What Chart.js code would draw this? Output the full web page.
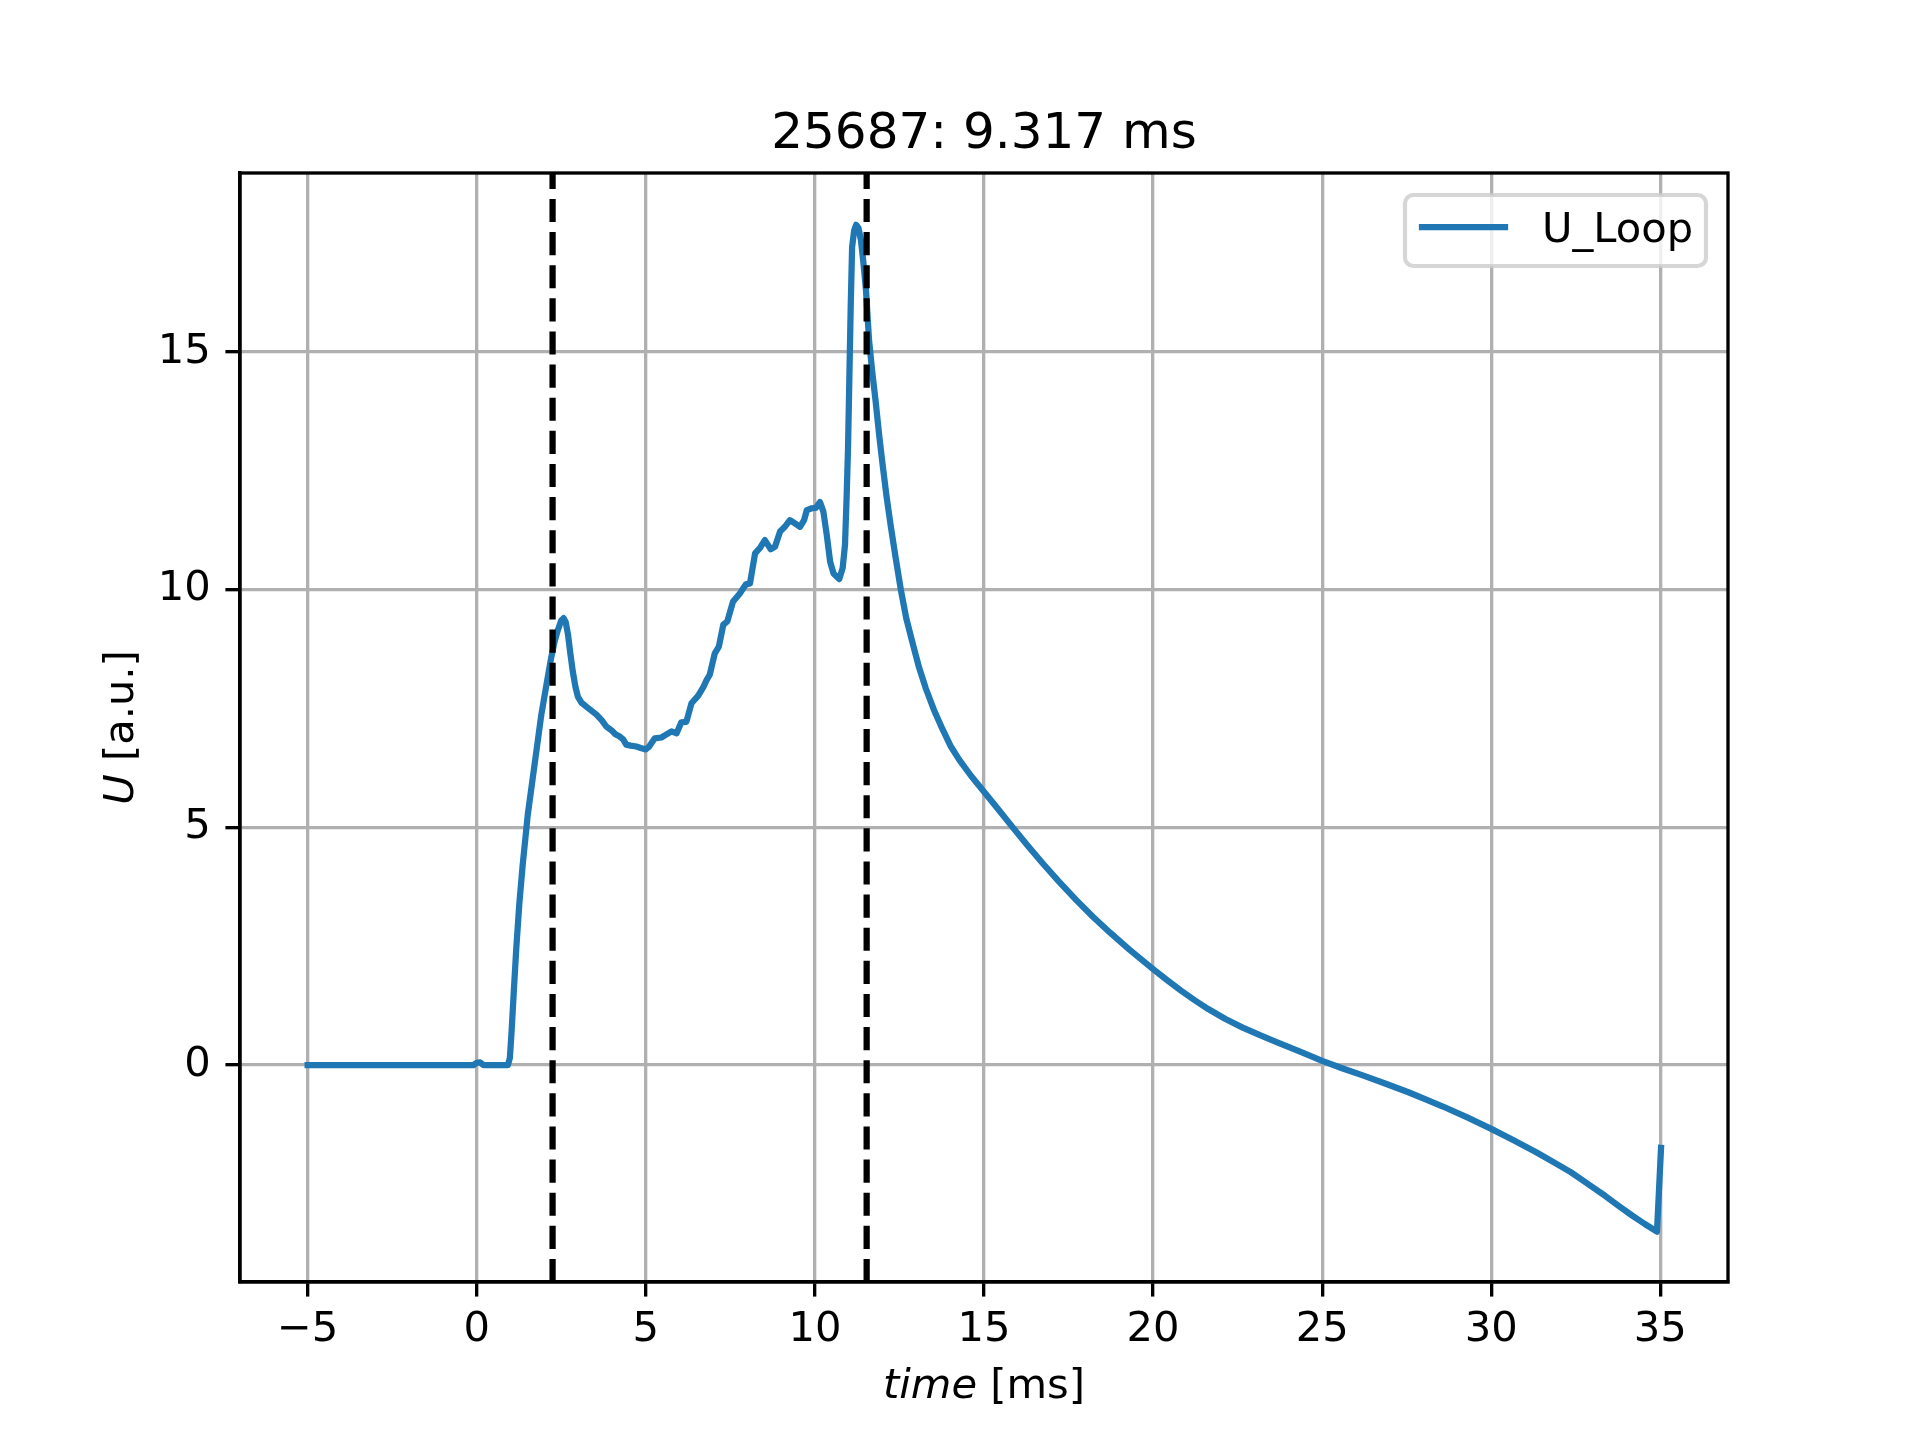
<!DOCTYPE html>
<html>
<head>
<meta charset="utf-8">
<script src="https://cdn.jsdelivr.net/npm/chart.js@4.4.1/dist/chart.umd.min.js"></script>
<style>
  html, body { margin: 0; padding: 0; background: #fff; }
  #wrap { width: 1920px; height: 1440px; }
</style>
</head>
<body>
<div id="wrap"><canvas id="uLoopCanvas" width="1920" height="1440"></canvas></div>
<script>
// values
var timeMs = [
  -5, -0.1, 0.0, 0.1, 0.2, 0.92, 0.98, 1.03, 1.1, 1.17,
  1.26, 1.36, 1.51, 1.71, 1.91, 2.05, 2.2, 2.3, 2.4, 2.5,
  2.57, 2.63, 2.7, 2.77, 2.84, 2.92, 2.99, 3.1, 3.24, 3.4,
  3.54, 3.7, 3.83, 4.0, 4.1, 4.23, 4.33, 4.42, 4.55, 4.72,
  4.85, 5.0, 5.1, 5.26, 5.46, 5.6, 5.76, 5.91, 6.05, 6.2,
  6.35, 6.55, 6.7, 6.8, 6.89, 7.04, 7.16, 7.29, 7.41, 7.58,
  7.78, 7.96, 8.08, 8.23, 8.37, 8.52, 8.69, 8.82, 8.97, 9.11,
  9.26, 9.41, 9.56, 9.68, 9.76, 9.91, 10.03, 10.15, 10.25, 10.35,
  10.45, 10.55, 10.72, 10.82, 10.89, 10.94, 10.98, 11.02, 11.06, 11.1,
  11.16, 11.22, 11.29, 11.36, 11.43, 11.51, 11.6, 11.7, 11.8, 11.9,
  12.0, 12.12, 12.24, 12.38, 12.54, 12.7, 12.89, 13.08, 13.28, 13.52,
  13.77, 14.02, 14.27, 14.62, 15.0, 15.42, 15.85, 16.3, 16.74, 17.23,
  17.73, 18.22, 18.72, 19.3, 20.0, 20.41, 20.82, 21.22, 21.63,
  22.14, 22.65, 23.16, 23.67, 24.33, 25.0, 25.61, 26.22, 26.88, 27.55,
  28.06, 28.57, 29.29, 30.0, 30.66, 31.33, 31.84, 32.35, 32.86, 33.37,
  33.77, 34.18, 34.54, 34.9, 35.02
];
var uLoop = [
  0, 0, 0.05, 0.06, 0, 0, 0.15, 0.7, 1.6, 2.46,
  3.4, 4.22, 5.27, 6.32, 7.37, 7.95, 8.56, 8.9, 9.15, 9.35,
  9.4, 9.32, 9.05, 8.65, 8.28, 7.95, 7.75, 7.62, 7.54, 7.45,
  7.37, 7.25, 7.12, 7.03, 6.96, 6.91, 6.85, 6.74, 6.72, 6.7,
  6.67, 6.64, 6.7, 6.87, 6.89, 6.95, 7.02, 6.98, 7.21, 7.22,
  7.61, 7.77, 7.95, 8.1, 8.21, 8.66, 8.8, 9.26, 9.33, 9.75,
  9.92, 10.11, 10.13, 10.76, 10.87, 11.04, 10.85, 10.9, 11.22, 11.32,
  11.46, 11.39, 11.32, 11.46, 11.67, 11.71, 11.72, 11.84, 11.64, 11.15,
  10.59, 10.34, 10.22, 10.45, 10.94, 11.99, 13.0, 14.5, 16.0, 17.2,
  17.55, 17.67, 17.6, 17.35, 16.9, 16.3, 15.25, 14.55, 13.93, 13.25,
  12.64, 11.95, 11.35, 10.7, 10.0, 9.4, 8.87, 8.36, 7.92, 7.47,
  7.07, 6.7, 6.42, 6.08, 5.75, 5.38, 5.0, 4.61, 4.24, 3.85,
  3.47, 3.12, 2.79, 2.43, 2.02, 1.79, 1.57, 1.37, 1.18,
  0.97, 0.79, 0.63, 0.48, 0.29, 0.09, -0.07, -0.22, -0.39, -0.57,
  -0.72, -0.87, -1.1, -1.34, -1.58, -1.83, -2.04, -2.25, -2.5, -2.75,
  -2.96, -3.17, -3.34, -3.5, -1.74
];
var markerTimes = [2.243, 11.53];
var xTicks = [-5, 0, 5, 10, 15, 20, 25, 30, 35];
var yTicks = [0, 5, 10, 15];
var xRange = [-7, 37];
var yRange = [-4.56, 18.76];

var titleText = '25687: 9.317 ms';
var legendText = 'U_Loop';

// matplotlib-ish sizes at 300 dpi
var PT = 300 / 72;
var FONT = "'DejaVu Sans', 'Liberation Sans', sans-serif";
var BLUE = '#1f77b4';

var points = [];
for (let i = 0; i < timeMs.length; i++) {
  points.push({ x: timeMs[i], y: uLoop[i] });
}

var datasets = [];
for (let i = 0; i < markerTimes.length; i++) {
  datasets.push({
    label: 'marker' + i,
    data: [{ x: markerTimes[i], y: yRange[0] }, { x: markerTimes[i], y: yRange[1] }],
    borderColor: '#000',
    borderWidth: 1.5 * PT,
    borderDash: [3.7 * 1.5 * PT, 1.6 * 1.5 * PT],
    borderCapStyle: 'butt',
    pointRadius: 0,
    order: 0
  });
}
datasets.push({
  label: legendText,
  data: points,
  borderColor: BLUE,
  borderWidth: 1.5 * PT,
  borderJoinStyle: 'round',
  borderCapStyle: 'square',
  pointRadius: 0,
  tension: 0,
  order: 1
});

function minusSign(v) {
  return String(v).replace('-', '\u2212');
}

function axisOpts(range, ticks, pad) {
  return {
    type: 'linear',
    min: range[0],
    max: range[1],
    afterBuildTicks: function (axis) {
      axis.ticks = ticks.map(v => ({ value: v }));
    },
    grid: {
      color: '#b0b0b0',
      lineWidth: 0.8 * PT,
      drawTicks: true,
      tickLength: 3.5 * PT,
      tickColor: '#000',
      tickWidth: 0.8 * PT
    },
    border: { display: true, color: '#000', width: 0.8 * PT },
    ticks: {
      color: '#000',
      font: { family: FONT, size: 10 * PT },
      padding: pad,
      maxRotation: 0,
      autoSkip: false,
      callback: function (v) { return minusSign(v); }
    }
  };
}

var xScale = axisOpts(xRange, xTicks, 8.5);
xScale.afterFit = function (axis) { axis.height = 158; };
var yScale = axisOpts(yRange, yTicks, 3.5 * PT);
yScale.afterFit = function (axis) { axis.width = 240; };

// frame, title, axis labels and legend the matplotlib way
var decorations = {
  id: 'decorations',
  afterDatasetsDraw: function (chart) {
    let ctx = chart.ctx;
    let a = chart.chartArea;
    ctx.save();
    ctx.strokeStyle = '#000';
    ctx.lineWidth = 0.8 * PT;
    ctx.strokeRect(a.left, a.top, a.right - a.left, a.bottom - a.top);
    ctx.restore();
  },
  afterDraw: function (chart) {
    let ctx = chart.ctx;
    let a = chart.chartArea;
    let cx = (a.left + a.right) / 2;
    let cy = (a.top + a.bottom) / 2;
    let fs = 10 * PT;
    ctx.save();
    ctx.fillStyle = '#000';
    ctx.textBaseline = 'alphabetic';

    // title
    ctx.font = (12 * PT) + 'px ' + FONT;
    ctx.textAlign = 'center';
    ctx.fillText(titleText, cx, a.top - 6 * PT);

    // x label: italic "time" + " [ms]"
    ctx.textAlign = 'left';
    let itFont = 'italic ' + fs + 'px ' + FONT;
    let rgFont = fs + 'px ' + FONT;
    ctx.font = itFont;
    let w1 = ctx.measureText('time').width;
    ctx.font = rgFont;
    let w2 = ctx.measureText(' [ms]').width;
    let x0 = cx - (w1 + w2) / 2;
    ctx.font = itFont;
    ctx.fillText('time', x0, 1398);
    ctx.font = rgFont;
    ctx.fillText(' [ms]', x0 + w1, 1398);

    // y label: italic "U" + " [a.u.]"
    ctx.save();
    ctx.translate(133, cy);
    ctx.rotate(-Math.PI / 2);
    ctx.font = itFont;
    let w3 = ctx.measureText('U').width;
    ctx.font = rgFont;
    let w4 = ctx.measureText(' [a.u.]').width;
    let y0 = -(w3 + w4) / 2;
    ctx.font = itFont;
    ctx.fillText('U', y0, 0);
    ctx.font = rgFont;
    ctx.fillText(' [a.u.]', y0 + w3, 0);
    ctx.restore();

    // legend box
    let bx = 1405, by = 195, bw = 301, bh = 71, r = 0.2 * fs;
    ctx.beginPath();
    ctx.moveTo(bx + r, by);
    ctx.lineTo(bx + bw - r, by);
    ctx.arcTo(bx + bw, by, bx + bw, by + r, r);
    ctx.lineTo(bx + bw, by + bh - r);
    ctx.arcTo(bx + bw, by + bh, bx + bw - r, by + bh, r);
    ctx.lineTo(bx + r, by + bh);
    ctx.arcTo(bx, by + bh, bx, by + bh - r, r);
    ctx.lineTo(bx, by + r);
    ctx.arcTo(bx, by, bx + r, by, r);
    ctx.closePath();
    ctx.fillStyle = 'rgba(255,255,255,0.8)';
    ctx.fill();
    ctx.strokeStyle = 'rgba(204,204,204,0.8)';
    ctx.lineWidth = 1.0 * PT;
    ctx.stroke();

    ctx.beginPath();
    ctx.moveTo(1422, 227);
    ctx.lineTo(1505, 227);
    ctx.strokeStyle = BLUE;
    ctx.lineWidth = 1.5 * PT;
    ctx.lineCap = 'square';
    ctx.stroke();

    ctx.fillStyle = '#000';
    ctx.font = rgFont;
    ctx.textAlign = 'left';
    ctx.fillText(legendText, 1542, 242);
    ctx.restore();
  }
};

var ctxU = document.getElementById('uLoopCanvas').getContext('2d');
var uLoopChart = new Chart(ctxU, {
  type: 'line',
  data: { datasets: datasets },
  options: {
    responsive: false,
    devicePixelRatio: 1,
    animation: false,
    layout: { padding: { left: 0, right: 192, top: 173, bottom: 0 } },
    plugins: {
      legend: { display: false },
      title: { display: false },
      tooltip: { enabled: false }
    },
    scales: { x: xScale, y: yScale }
  },
  plugins: [decorations]
});
</script>
</body>
</html>
